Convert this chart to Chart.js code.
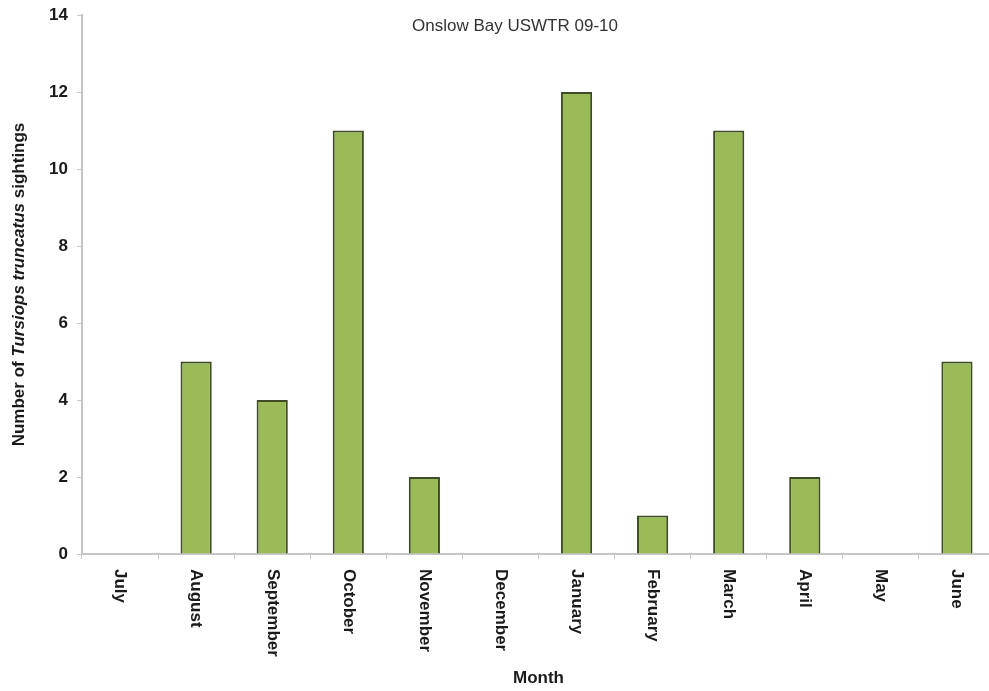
<!DOCTYPE html>
<html>
<head>
<meta charset="utf-8">
<script src="https://cdn.jsdelivr.net/npm/chart.js@4"></script>
<style>
html,body{margin:0;padding:0;background:#fff;overflow:hidden;width:989px;height:691px;}
canvas{display:block;}
</style>
</head>
<body>
<canvas id="c" width="1000" height="691"></canvas>
<script>
const months = ['July','August','September','October','November','December','January','February','March','April','May','June'];
const sightings = [0,5,4,11,2,0,12,1,11,2,0,5];
const yTicks = [0,2,4,6,8,10,12,14];
const chartTitle = 'Onslow Bay USWTR 09-10';
const xTitle = 'Month';
const yTitleParts = [['Number of ', false], ['Tursiops truncatus', true], [' sightings', false]];

const FONT = '"Liberation Sans", Arial, sans-serif';
const AXIS = '#c6c6c6';

const textPlugin = {
  id: 'texts',
  afterDraw(chart) {
    const ctx = chart.ctx;
    const xs = chart.scales.x, ys = chart.scales.y;
    ctx.save();
    ctx.fillStyle = '#1a1a1a';
    // x labels rotated clockwise
    ctx.font = 'bold 17px ' + FONT;
    ctx.textAlign = 'left';
    ctx.textBaseline = 'middle';
    months.forEach((m, i) => {
      const x = xs.getPixelForValue(i);
      ctx.save();
      ctx.translate(x, ys.bottom + 15);
      ctx.rotate(Math.PI / 2);
      ctx.fillText(m, 0, 0);
      ctx.restore();
    });
    // x title
    ctx.font = 'bold 17px ' + FONT;
    ctx.textAlign = 'center';
    ctx.fillText(xTitle, (xs.left + xs.right) / 2, 678);
    // chart title
    ctx.font = '17px ' + FONT;
    ctx.fillStyle = '#333';
    ctx.fillText(chartTitle, 515, 26);
    // y title with italic part
    ctx.fillStyle = '#1a1a1a';
    const fonts = yTitleParts.map(p => (p[1] ? 'italic bold ' : 'bold ') + '17px ' + FONT);
    let total = 0;
    const widths = yTitleParts.map((p, i) => { ctx.font = fonts[i]; const w = ctx.measureText(p[0]).width; total += w; return w; });
    ctx.save();
    ctx.translate(19, (ys.top + ys.bottom) / 2);
    ctx.rotate(-Math.PI / 2);
    ctx.textAlign = 'left';
    let pos = -total / 2;
    yTitleParts.forEach((p, i) => { ctx.font = fonts[i]; ctx.fillText(p[0], pos, 0); pos += widths[i]; });
    ctx.restore();
    ctx.restore();
  }
};

new Chart(document.getElementById('c'), {
  type: 'bar',
  data: {
    labels: months,
    datasets: [{
      data: sightings,
      backgroundColor: '#9bbb59',
      borderColor: '#3f4b25',
      borderWidth: 2,
      barPercentage: 0.41,
      categoryPercentage: 1.0
    }]
  },
  options: {
    responsive: false,
    animation: false,
    devicePixelRatio: 1,
    layout: { padding: { left: 0, top: 15, right: 5, bottom: 0 } },
    plugins: { legend: { display: false }, tooltip: { enabled: false }, title: { display: false } },
    scales: {
      x: {
        offset: true,
        grid: { display: true, drawOnChartArea: false, drawTicks: true, tickLength: 5, color: AXIS, offset: true },
        border: { color: AXIS, width: 2 },
        ticks: { display: false },
        afterFit(s) { s.height = 137; s.paddingLeft = 0; s.paddingRight = 0; }
      },
      y: {
        min: 0, max: 14,
        afterBuildTicks(s) { s.ticks = yTicks.map(v => ({ value: v })); },
        grid: { display: true, drawOnChartArea: false, drawTicks: true, tickLength: 5, color: AXIS },
        border: { color: AXIS, width: 2 },
        ticks: { font: { family: FONT, size: 17, weight: 'bold' }, color: '#1a1a1a', padding: 9 },
        afterFit(s) { s.width = 82; s.paddingTop = 0; s.paddingBottom = 0; }
      }
    }
  },
  plugins: [textPlugin]
});
</script>
</body>
</html>
